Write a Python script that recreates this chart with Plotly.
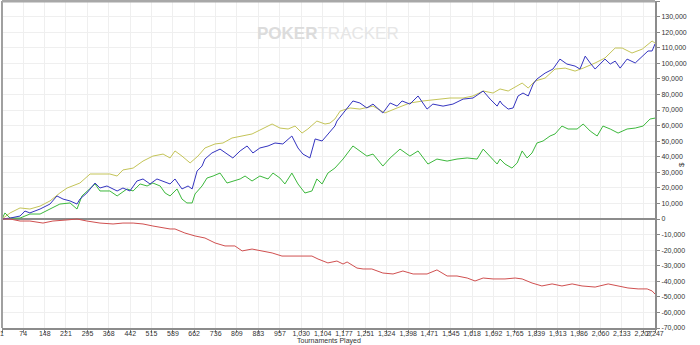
import plotly.graph_objects as go

# Tournaments played (x) and cumulative winnings ($) for each series
yellow_x = [1, 29, 63, 97, 132, 166, 200, 225, 269, 304, 338, 372, 397, 417, 452, 486, 520, 555, 579, 596,
            620, 648, 675, 699, 734, 761, 792, 827, 861, 888, 930, 957, 985, 1009, 1033, 1053, 1084, 1112,
            1129, 1146, 1164, 1198, 1232, 1277, 1318, 1360, 1404, 1449, 1497, 1542, 1587, 1621, 1656, 1690,
            1714, 1742, 1790, 1811, 1834, 1869, 1903, 1938, 1972, 2000, 2041, 2075, 2110, 2134, 2168, 2203,
            2237, 2247]
yellow_y = [0, 3900, 7100, 6400, 8300, 11600, 16700, 19900, 23100, 28900, 28900, 28900, 27600, 31500, 32700,
            37200, 40400, 41700, 39200, 43700, 40400, 36000, 40400, 45600, 48200, 48800, 52000, 53300, 54600,
            57100, 61000, 58400, 57800, 59700, 55200, 57800, 62900, 61000, 61600, 64200, 69300, 71300, 70600,
            72500, 68100, 71300, 74500, 75800, 77000, 77700, 77700, 79000, 82200, 80900, 83500, 82200, 87300,
            84100, 88600, 90500, 96300, 96900, 95000, 96900, 100200, 103400, 109800, 109800, 106600, 109100,
            114300, 113000]

blue_x = [1, 29, 63, 80, 97, 132, 166, 190, 211, 235, 259, 269, 293, 321, 338, 362, 397, 417, 441, 465, 486,
          510, 534, 555, 579, 596, 620, 641, 655, 672, 689, 699, 723, 751, 775, 795, 820, 844, 864, 888, 916,
          940, 967, 998, 1019, 1036, 1060, 1078, 1102, 1122, 1129, 1146, 1153, 1174, 1208, 1232, 1256, 1277,
          1311, 1336, 1360, 1377, 1404, 1432, 1463, 1483, 1518, 1552, 1587, 1621, 1656, 1680, 1704, 1714,
          1721, 1742, 1759, 1776, 1793, 1811, 1828, 1841, 1869, 1896, 1920, 1944, 1972, 1989, 2007, 2024,
          2041, 2058, 2075, 2093, 2110, 2127, 2151, 2179, 2203, 2223, 2237, 2247]
blue_y = [0, 600, 1900, 5100, 3900, 6400, 9600, 14800, 12800, 11600, 9600, 12800, 16700, 23100, 19900, 21200,
          18000, 19900, 18000, 24400, 25700, 22500, 25700, 24400, 22500, 25700, 19300, 21200, 19300, 30800,
          34000, 38500, 42400, 44900, 41700, 39200, 43700, 46900, 42400, 45600, 46900, 48800, 48200, 53300,
          45600, 41700, 39200, 51400, 50100, 54600, 56500, 59700, 62900, 68100, 75800, 74500, 71300, 73800,
          68100, 74500, 72500, 75800, 73800, 79000, 70600, 73800, 72500, 73800, 77000, 77700, 82200, 77000,
          72500, 75800, 73800, 70600, 71300, 79000, 80900, 79000, 86700, 89900, 93700, 96300, 102700, 99500,
          98200, 96300, 104600, 100200, 96300, 99500, 102700, 99500, 101400, 96900, 102700, 100200, 104600,
          107900, 107900, 112400]

green_x = [1, 11, 29, 63, 97, 132, 166, 200, 235, 259, 276, 304, 321, 338, 372, 397, 431, 452, 476, 500, 520,
           545, 562, 579, 603, 620, 637, 655, 665, 689, 706, 727, 751, 775, 795, 820, 837, 861, 888, 916, 933,
           957, 974, 998, 1019, 1043, 1067, 1084, 1102, 1122, 1146, 1153, 1174, 1208, 1232, 1256, 1277, 1311,
           1336, 1370, 1404, 1432, 1466, 1497, 1532, 1566, 1601, 1635, 1656, 1680, 1704, 1714, 1731, 1755,
           1773, 1790, 1807, 1824, 1841, 1862, 1886, 1903, 1927, 1948, 1979, 2000, 2024, 2048, 2068, 2093,
           2120, 2151, 2179, 2206, 2230, 2247]
green_y = [0, 3900, 600, 600, 3200, 3200, 6400, 9600, 10300, 6400, 14800, 19900, 22500, 18000, 18000, 14800,
           19300, 18000, 22500, 21200, 23100, 21200, 16700, 14800, 19300, 12800, 10300, 10300, 16100, 21200,
           26300, 27600, 29500, 23100, 24400, 25700, 27600, 24400, 27600, 25700, 29500, 26300, 22500, 29500,
           22500, 16700, 18000, 25700, 22500, 29500, 32700, 34000, 38500, 46900, 43700, 40400, 41700, 34000,
           39200, 44900, 40400, 43700, 35300, 38500, 37200, 38500, 39200, 38500, 44900, 40400, 35300, 38500,
           35300, 32700, 36000, 43700, 39200, 42400, 48800, 50100, 53300, 54600, 59700, 57800, 57800, 61000,
           56500, 53300, 59700, 57800, 55200, 57800, 58400, 59700, 64200, 64800]

red_x = [1, 29, 63, 97, 142, 176, 225, 259, 293, 338, 383, 417, 452, 486, 520, 555, 579, 596, 630, 665, 699,
         734, 768, 802, 827, 861, 895, 930, 964, 998, 1033, 1067, 1088, 1122, 1153, 1174, 1188, 1222, 1243,
         1273, 1311, 1346, 1380, 1415, 1463, 1497, 1532, 1566, 1601, 1628, 1656, 1690, 1731, 1766, 1790, 1824,
         1858, 1893, 1927, 1962, 1996, 2041, 2086, 2120, 2154, 2189, 2220, 2237, 2247]
red_y = [0, 0, -1300, -1300, -2600, -1300, -600, 0, -1300, -2600, -3200, -2600, -2600, -3200, -4500, -5800,
         -6400, -6400, -9000, -10900, -12200, -15400, -17300, -17300, -20500, -19300, -20500, -21800, -23800,
         -23800, -23800, -23800, -25700, -28200, -27000, -28900, -27600, -31500, -32100, -32100, -34700,
         -35300, -33400, -35300, -35300, -32700, -36600, -36600, -37900, -39800, -37900, -38500, -38500,
         -37900, -38500, -41100, -43000, -41700, -43000, -41700, -43000, -43700, -41700, -43000, -44300,
         -44900, -44900, -46200, -48200]

x_tickvals = [1, 74, 148, 221, 295, 368, 442, 515, 589, 662, 736, 809, 883, 957, 1030, 1104, 1177, 1251, 1324,
              1398, 1471, 1545, 1618, 1692, 1765, 1839, 1913, 1986, 2060, 2133, 2207, 2247]
x_ticktext = [f"{v:,}" for v in x_tickvals]
y_tickvals = list(range(-70000, 140001, 10000))
y_ticktext = [f"{v:,}" for v in y_tickvals]

fig = go.Figure()
series = [
    (yellow_x, yellow_y, "#c4c458"),
    (green_x, green_y, "#3cb83c"),
    (blue_x, blue_y, "#3434c0"),
    (red_x, red_y, "#d05050"),
]
for xs, ys, col in series:
    fig.add_trace(go.Scatter(x=xs, y=ys, mode="lines", line=dict(color=col, width=1), showlegend=False,
                             cliponaxis=False))

fig.update_layout(
    width=700, height=345,
    margin=dict(l=2, r=45, t=1, b=17, autoexpand=False),
    paper_bgcolor="white", plot_bgcolor="white",
    font=dict(family="Liberation Sans, Arial", size=8, color="#333333"),
    xaxis=dict(
        range=[1, 2247], tickmode="array", tickvals=x_tickvals, ticktext=x_ticktext,
        tickfont=dict(size=7), tickangle=0, ticks="outside", ticklen=3, tickcolor="#888888",
        ticklabelstandoff=-5,
        showgrid=True, gridcolor="#efefef", gridwidth=1, automargin=False,
        showline=True, linecolor="#8c8c8c", linewidth=2, zeroline=False,
    ),
    yaxis=dict(
        range=[-70000, 140000], side="right", tickmode="array", tickvals=y_tickvals, ticktext=y_ticktext,
        tickfont=dict(size=7), ticks="outside", ticklen=3, tickcolor="#888888",
        showgrid=True, gridcolor="#efefef", gridwidth=1, automargin=False,
        showline=True, linecolor="#8c8c8c", linewidth=2,
        zeroline=True, zerolinecolor="#8c8c8c", zerolinewidth=2,
    ),
)

# left and top borders
fig.add_shape(type="line", xref="paper", yref="paper", x0=0, x1=0, y0=0, y1=1,
              line=dict(color="#a0a0a0", width=2))
fig.add_shape(type="line", xref="paper", yref="paper", x0=0, x1=1, y0=1, y1=1,
              line=dict(color="#a8a8a8", width=3))

# axis title "$"
fig.add_annotation(xref="paper", yref="paper", x=1, xshift=33, y=0.5, text="$", showarrow=False,
                   textangle=-90, font=dict(size=8, color="#333333"))

# x axis title
fig.add_annotation(xref="paper", yref="paper", x=0.5, y=0, yanchor="middle", yshift=-12.5,
                   text="Tournaments Played", showarrow=False, font=dict(size=7, color="#333333"))

# watermark
fig.add_annotation(xref="paper", yref="paper", x=0.499, y=0.935,
                   text="<b><span style='color:#dcdcdc'>POKER</span></b><span style='color:#e6e6e6'>TRACKER</span>",
                   showarrow=False, font=dict(size=17, family="Liberation Sans, Arial"))

fig.write_html("out.html")
